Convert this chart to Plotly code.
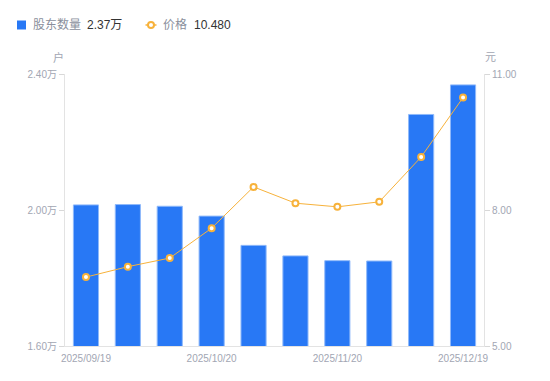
import plotly.graph_objects as go

dates = ["2025/09/19", "2025/09/30", "2025/10/10", "2025/10/20", "2025/10/31",
         "2025/11/10", "2025/11/20", "2025/11/28", "2025/12/10", "2025/12/19"]
holders_wan = [2.015, 2.016, 2.011, 1.982, 1.896, 1.865, 1.851, 1.850, 2.281, 2.368]
price = [6.52, 6.75, 6.94, 7.60, 8.51, 8.15, 8.07, 8.18, 9.17, 10.48]
xtick_labels = ["2025/09/19", "2025/10/20", "2025/11/20", "2025/12/19"]
left_ticks = [1.60, 2.00, 2.40]
right_ticks = [5.00, 8.00, 11.00]
legend_names = ["股东数量", "价格"]
legend_values = ["2.37万", "10.480"]

FONT = "Liberation Sans, Arial, Noto Sans CJK SC, sans-serif"
GRAY = "#a2a6b3"
LEGGRAY = "#8a8f9c"
DARK = "#333333"
BLUE = "#2878f5"
ORANGE = "#f7b23b"

W, H = 550, 381
ML, MR, MT, MB = 65, 66, 74, 35
PW, PH = W - ML - MR, H - MT - MB


def px(x):
    return (x - ML) / PW


def py(y):
    return (H - MB - y) / PH


fig = go.Figure()
fig.add_trace(go.Bar(
    x=dates, y=holders_wan, name=legend_names[0],
    marker=dict(color=BLUE, line=dict(color="#8fb9fa", width=1)),
    yaxis="y", hoverinfo="skip",
))
fig.add_trace(go.Scatter(
    x=dates, y=price, mode="lines+markers", name=legend_names[1],
    line=dict(color=ORANGE, width=1),
    marker=dict(size=6, color="white", line=dict(color=ORANGE, width=2)),
    yaxis="y2", hoverinfo="skip",
))

axis_common = dict(showline=True, linecolor="#e3e3e3", linewidth=1, showgrid=False,
                   zeroline=False, automargin=False)

fig.update_layout(
    width=W, height=H,
    margin=dict(l=ML, r=MR, t=MT, b=MB),
    paper_bgcolor="white", plot_bgcolor="white",
    font=dict(family=FONT, size=10, color=GRAY),
    bargap=0.4,
    showlegend=False,
    xaxis=dict(
        type="category", range=[-0.5, len(dates) - 0.5],
        tickmode="array", tickvals=xtick_labels, ticktext=xtick_labels,
        ticks="outside", ticklen=3, tickcolor="rgba(0,0,0,0)",
        tickfont=dict(size=10, color=GRAY), **axis_common,
    ),
    yaxis=dict(
        range=[1.6, 2.4], tickmode="array", tickvals=left_ticks,
        ticktext=[f"{v:.2f}万" for v in left_ticks],
        ticks="outside", ticklen=5, tickcolor="#d8d8d8",
        tickfont=dict(size=10, color=GRAY), **axis_common,
    ),
    yaxis2=dict(
        range=[5, 11], overlaying="y", side="right", tickmode="array",
        tickvals=right_ticks, ticktext=[f"{v:.2f}" for v in right_ticks],
        ticks="outside", ticklen=5, tickcolor="#d8d8d8",
        tickfont=dict(size=10, color=GRAY), **axis_common,
    ),
)

annotations = [
    dict(text="户", x=px(58.5), y=py(57), font=dict(size=11, color=GRAY)),
    dict(text="元", x=px(490), y=py(57), font=dict(size=11, color=GRAY)),
    dict(text=legend_names[0], x=px(31), y=py(25), xanchor="left",
         font=dict(size=12, color=LEGGRAY)),
    dict(text=legend_values[0], x=px(85), y=py(25), xanchor="left",
         font=dict(size=12, color=DARK)),
    dict(text=legend_names[1], x=px(161), y=py(25), xanchor="left",
         font=dict(size=12, color=LEGGRAY)),
    dict(text=legend_values[1], x=px(191.5), y=py(25), xanchor="left",
         font=dict(size=12, color=DARK)),
]
for a in annotations:
    a.update(xref="paper", yref="paper", showarrow=False, yanchor="middle")
    a.setdefault("xanchor", "center")
fig.update_layout(annotations=annotations)

shapes = [
    dict(type="rect", x0=px(17), x1=px(26), y0=py(20.5), y1=py(29.5),
         fillcolor=BLUE, line=dict(width=0)),
    dict(type="line", x0=px(145.5), x1=px(156.5), y0=py(25), y1=py(25),
         line=dict(color=ORANGE, width=1.5)),
    dict(type="circle", x0=px(148), x1=px(154), y0=py(28), y1=py(22),
         fillcolor="white", line=dict(color=ORANGE, width=2)),
]
for s in shapes:
    s.update(xref="paper", yref="paper")
fig.update_layout(shapes=shapes)

fig.write_html("out.html",
               config={"displayModeBar": False, "staticPlot": True},
               post_script="document.body.style.margin='0';document.body.style.padding='0';")
